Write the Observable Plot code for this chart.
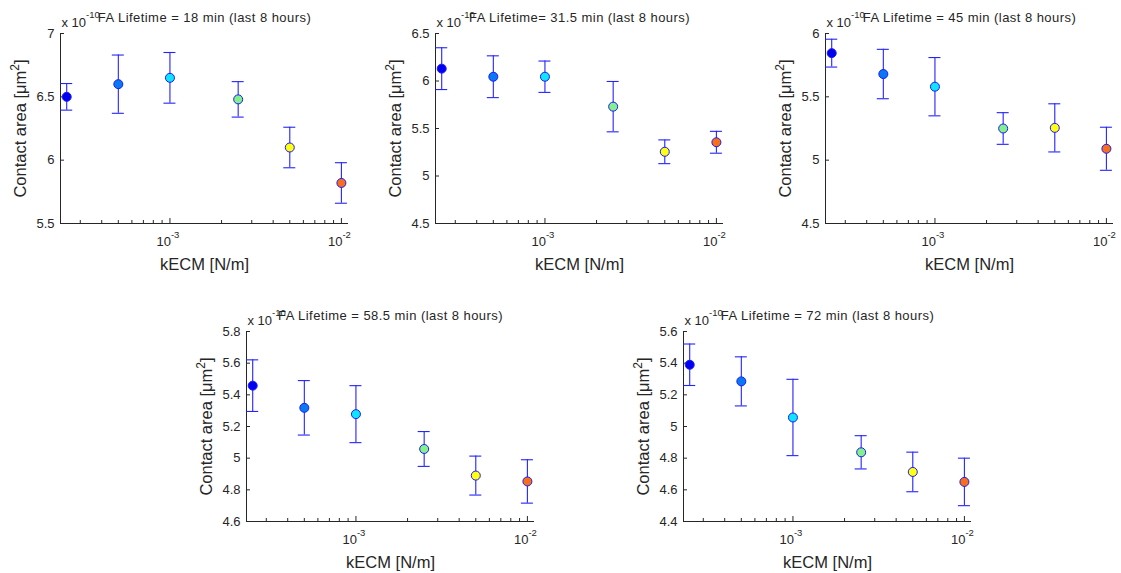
<!DOCTYPE html>
<html>
<head>
<meta charset="utf-8">
<script src="https://cdn.jsdelivr.net/npm/d3@7"></script>
<script src="https://cdn.jsdelivr.net/npm/@observablehq/plot@0.6"></script>
<style>
  html, body { margin: 0; padding: 0; background: #fff; overflow: hidden; }
  #fig { position: relative; width: 1121px; height: 573px; overflow: hidden; background: #fff; }
  #fig svg { position: absolute; }
</style>
</head>
<body>
<div id="fig"></div>
<script>
// ---------- data ----------
const kECM = [2.5e-4, 5e-4, 1e-3, 2.5e-3, 5e-3, 1e-2];
const pointColors = ["#0000ee", "#0a78f0", "#10e4ff", "#84f08a", "#ffff10", "#f86f1a"];

const titles = [
  "FA Lifetime = 18 min (last 8 hours)",
  "FA Lifetime= 31.5 min (last 8 hours)",
  "FA Lifetime = 45 min (last 8 hours)",
  "FA Lifetime = 58.5 min (last 8 hours)",
  "FA Lifetime = 72 min (last 8 hours)"
];

const means18 = [6.50, 6.60, 6.65, 6.48, 6.10, 5.82];
const errs18  = [0.105, 0.23, 0.20, 0.14, 0.16, 0.16];
const means31 = [6.13, 6.045, 6.045, 5.73, 5.255, 5.355];
const errs31  = [0.22, 0.22, 0.165, 0.265, 0.125, 0.115];
const means45 = [5.845, 5.68, 5.58, 5.25, 5.255, 5.09];
const errs45  = [0.11, 0.195, 0.23, 0.125, 0.19, 0.17];
const means58 = [5.458, 5.318, 5.278, 5.058, 4.89, 4.853];
const errs58  = [0.163, 0.172, 0.18, 0.11, 0.123, 0.137];
const means72 = [5.39, 5.285, 5.057, 4.837, 4.713, 4.65];
const errs72  = [0.131, 0.155, 0.241, 0.105, 0.125, 0.15];

const yTicks18 = [5.5, 6, 6.5, 7];
const yTicks31 = [4.5, 5, 5.5, 6, 6.5];
const yTicks45 = [4.5, 5, 5.5, 6];
const yTicks58 = [4.6, 4.8, 5, 5.2, 5.4, 5.6, 5.8];
const yTicks72 = [4.4, 4.6, 4.8, 5, 5.2, 5.4, 5.6];

const xDomain = [2.3e-4, 1.1e-2];
const xMajorTicks = [1e-3, 1e-2];
const xMinorTicks = [3e-4, 4e-4, 5e-4, 6e-4, 7e-4, 8e-4, 9e-4,
                     2e-3, 3e-3, 4e-3, 5e-3, 6e-3, 7e-3, 8e-3, 9e-3];
const yExponent = "-10";
const yLabelMain = "Contact area [μm";
const yLabelSup = "2";
const yLabelEnd = "]";
const xLabel = "kECM [N/m]";

// ---------- layout ----------
const W = 288, H = 190;
const ML = 60, MT = 33, MR = 20, MB = 57;
const FONT = "'Liberation Sans', Arial, Helvetica, sans-serif";
const TXT = "#262626";
const BAR = "#2323ff";

const panels = [
  {means: means18, errs: errs18, yTicks: yTicks18, title: titles[0], left: 60,  top: 33},
  {means: means31, errs: errs31, yTicks: yTicks31, title: titles[1], left: 435, top: 33},
  {means: means45, errs: errs45, yTicks: yTicks45, title: titles[2], left: 825, top: 33},
  {means: means58, errs: errs58, yTicks: yTicks58, title: titles[3], left: 246, top: 331},
  {means: means72, errs: errs72, yTicks: yTicks72, title: titles[4], left: 683, top: 331}
];

const fmt = d3.format("~g");
const fig = document.getElementById("fig");
const yLabelFull = yLabelMain + yLabelSup + yLabelEnd;

for (const p of panels) {
  const data = kECM.map((x, i) => ({
    x, y: p.means[i], lo: p.means[i] - p.errs[i], hi: p.means[i] + p.errs[i], c: pointColors[i]
  }));
  const yDomain = d3.extent(p.yTicks);
  const chart = Plot.plot({
    width: ML + W + MR, height: MT + H + MB,
    marginLeft: ML, marginTop: MT, marginRight: MR, marginBottom: MB,
    x: {type: "log", domain: xDomain, axis: null},
    y: {domain: yDomain, axis: null},
    style: {fontFamily: FONT, color: TXT, background: "transparent", overflow: "visible"},
    marks: [
      // axis lines
      Plot.ruleX([xDomain[0]], {x: d => d, stroke: TXT, strokeWidth: 1}),
      Plot.ruleY([yDomain[0]], {y: d => d, stroke: TXT, strokeWidth: 1}),
      // inward ticks
      Plot.tickY(p.yTicks, {y: d => d, insetRight: W - 4, stroke: TXT}),
      Plot.tickX(xMinorTicks, {x: d => d, insetTop: H - 3, stroke: TXT}),
      Plot.tickX(xMajorTicks, {x: d => d, insetTop: H - 5, stroke: TXT}),
      // y tick labels
      Plot.text(p.yTicks, {y: d => d, text: d => fmt(d), frameAnchor: "left", textAnchor: "end",
        lineAnchor: "middle", dx: -6, fontSize: 13, fill: TXT}),
      // x tick labels (10^k)
      Plot.text(xMajorTicks, {x: d => d, text: () => "10", frameAnchor: "bottom", textAnchor: "end",
        lineAnchor: "bottom", dx: 1, dy: 22, fontSize: 13, fill: TXT}),
      Plot.text(xMajorTicks, {x: d => d, text: d => String(Math.round(Math.log10(d))), frameAnchor: "bottom",
        textAnchor: "start", lineAnchor: "bottom", dx: 1, dy: 14, fontSize: 9.5, fill: TXT}),
      // axis labels
      Plot.text([xLabel], {text: d => d, frameAnchor: "bottom", lineAnchor: "bottom", dy: 46,
        fontSize: 16.5, fill: TXT}),
      Plot.text([yLabelFull], {text: d => d, frameAnchor: "left", rotate: -90, lineAnchor: "bottom",
        textAnchor: "middle", dx: -35, fontSize: 16.5, fill: TXT}),
      // exponent label
      Plot.text(["x 10"], {text: d => d, frameAnchor: "top-left", textAnchor: "start", lineAnchor: "bottom",
        dx: 1, dy: -7, fontSize: 13, fill: TXT}),
      Plot.text([yExponent], {text: d => d, frameAnchor: "top-left", textAnchor: "start", lineAnchor: "bottom",
        dx: 25.5, dy: -16, fontSize: 9.5, fill: TXT}),
      // title
      Plot.text([p.title], {text: d => d, frameAnchor: "top", lineAnchor: "bottom", dy: -11.5,
        fontSize: 13, fill: TXT}),
      // error bars
      Plot.ruleX(data, {x: "x", y1: "lo", y2: "hi", stroke: BAR, strokeWidth: 1.1}),
      Plot.ruleY(data, {y: "hi", x1: "x", x2: "x", insetLeft: -6, insetRight: -6, stroke: BAR, strokeWidth: 1.1}),
      Plot.ruleY(data, {y: "lo", x1: "x", x2: "x", insetLeft: -6, insetRight: -6, stroke: BAR, strokeWidth: 1.1}),
      // points
      Plot.dot(data, {x: "x", y: "y", r: 4.5, fill: "c", stroke: "#1a1aff", strokeWidth: 1})
    ]
  });
  // typographic touches: wider title spacing, real superscript in unit label
  d3.select(chart).selectAll("text").each(function () {
    const t = this.textContent;
    if (t === p.title) {
      this.setAttribute("letter-spacing", "0.45px");
    } else if (t === yLabelFull) {
      const sel = d3.select(this);
      const node = sel.selectAll("tspan").empty() ? sel : sel.select("tspan");
      node.text(yLabelMain);
      node.append("tspan").attr("dy", -6.5).attr("font-size", 12).text(yLabelSup);
      node.append("tspan").attr("dy", 6.5).text(yLabelEnd);
    }
  });
  chart.style.left = (p.left - ML) + "px";
  chart.style.top = (p.top - MT) + "px";
  fig.appendChild(chart);
}
</script>
</body>
</html>
